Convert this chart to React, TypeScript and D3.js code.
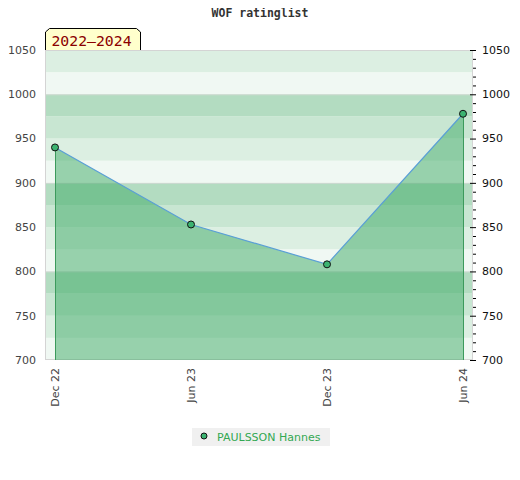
import { useEffect, useRef } from "react"
import * as d3 from "d3"

// ratings
const periods = ["Dec 22", "Jun 23", "Dec 23", "Jun 24"]
const ratings = [940, 853, 808, 978]
const playerName = "PAULSSON Hannes"
const yearRange = "2022–2024"
const yTicks = [700, 750, 800, 850, 900, 950, 1000, 1050]
const bandColors = ["#b3dcc1", "#c8e6d2", "#dcefe2", "#f0f8f3"]

export default function App() {
  const svgRef = useRef<SVGSVGElement>(null)

  useEffect(() => {
    if (!svgRef.current) return
    const svg = d3.select(svgRef.current)
    svg.selectAll("*").remove()

    const width = 520
    const height = 480
    const left = 45
    const right = 473
    const top = 50
    const bottom = 360
    const font = "DejaVu Sans, sans-serif"

    svg.attr("width", width).attr("height", height)

    const x = d3.scalePoint<string>().domain(periods).range([55, 463])
    const y = d3.scaleLinear().domain([700, 1050]).range([bottom, top])

    // background bands, 25 points each
    const bands = d3.range(700, 1050, 25)
    svg.append("g")
      .selectAll("rect")
      .data(bands)
      .enter()
      .append("rect")
      .attr("x", left)
      .attr("width", right - left)
      .attr("y", d => y(d + 25))
      .attr("height", d => y(d) - y(d + 25))
      .attr("fill", d => bandColors[3 - (((d - 700) / 25) % 4)])

    // light grid every 100
    svg.append("g")
      .selectAll("line")
      .data([800, 900, 1000, 1050])
      .enter()
      .append("line")
      .attr("x1", left)
      .attr("x2", right)
      .attr("y1", d => y(d) + 0.5)
      .attr("y2", d => y(d) + 0.5)
      .attr("stroke", "#cfd8d2")

    // plot border
    svg.append("rect")
      .attr("x", left + 0.5)
      .attr("y", top + 0.5)
      .attr("width", right - left - 1)
      .attr("height", bottom - top - 1)
      .attr("fill", "none")
      .attr("stroke", "#d4d4d4")

    const area = d3.area<number>()
      .x((_, i) => x(periods[i])!)
      .y0(y(700))
      .y1(d => y(d))

    svg.append("path")
      .datum(ratings)
      .attr("d", area)
      .attr("fill", "rgba(62,170,102,0.5)")

    // drop lines at first and last point
    const ends = [0, ratings.length - 1]
    svg.append("g")
      .selectAll("line")
      .data(ends)
      .enter()
      .append("line")
      .attr("x1", i => x(periods[i])! + 0.5)
      .attr("x2", i => x(periods[i])! + 0.5)
      .attr("y1", i => y(ratings[i]))
      .attr("y2", y(700))
      .attr("stroke", "#3c9a5c")

    const line = d3.line<number>()
      .x((_, i) => x(periods[i])!)
      .y(d => y(d))

    svg.append("path")
      .datum(ratings)
      .attr("d", line)
      .attr("fill", "none")
      .attr("stroke", "#5a9fd6")
      .attr("stroke-width", 1.2)

    svg.append("g")
      .selectAll("circle")
      .data(ratings)
      .enter()
      .append("circle")
      .attr("cx", (_, i) => x(periods[i])!)
      .attr("cy", d => y(d))
      .attr("r", 3.5)
      .attr("fill", "#3cb371")
      .attr("stroke", "#111")
      .attr("stroke-width", 1)

    // left axis labels
    svg.append("g")
      .selectAll("text")
      .data(yTicks)
      .enter()
      .append("text")
      .attr("x", 36)
      .attr("y", d => y(d))
      .attr("dy", "0.35em")
      .attr("text-anchor", "end")
      .attr("font-family", font)
      .attr("font-size", 11)
      .attr("fill", "#444")
      .text(d => d)

    // right axis with minor ticks
    const minor = d3.range(700, 1051, 10)
    svg.append("g")
      .selectAll("line")
      .data(minor)
      .enter()
      .append("line")
      .attr("x1", d => (d % 50 === 0 ? 470 : 473))
      .attr("x2", 476)
      .attr("y1", d => y(d) + 0.5)
      .attr("y2", d => y(d) + 0.5)
      .attr("stroke", "#000")

    svg.append("g")
      .selectAll("text")
      .data(yTicks)
      .enter()
      .append("text")
      .attr("x", 482)
      .attr("y", d => y(d))
      .attr("dy", "0.35em")
      .attr("font-family", font)
      .attr("font-size", 11)
      .attr("fill", "#111")
      .text(d => d)

    // x labels, rotated
    svg.append("g")
      .selectAll("text")
      .data(periods)
      .enter()
      .append("text")
      .attr("transform", d => `translate(${x(d)! + 4},368) rotate(-90)`)
      .attr("text-anchor", "end")
      .attr("font-family", font)
      .attr("font-size", 11)
      .attr("fill", "#444")
      .text(d => d)

    svg.append("text")
      .attr("x", 260)
      .attr("y", 17)
      .attr("text-anchor", "middle")
      .attr("font-family", "DejaVu Sans Mono, monospace")
      .attr("font-weight", "bold")
      .attr("font-size", 11.5)
      .attr("fill", "#333")
      .text("WOF ratinglist")

    // year badge
    svg.append("path")
      .attr("d", "M45.5,50 V32 L49.5,28.5 H136.5 L140.5,32 V50")
      .attr("fill", "#ffffcc")
      .attr("stroke", "#000")
    svg.append("text")
      .attr("x", 91.5)
      .attr("y", 45.5)
      .attr("text-anchor", "middle")
      .attr("font-family", "DejaVu Sans Mono, monospace")
      .attr("font-size", 14.8)
      .attr("fill", "#8b0000")
      .text(yearRange)

    // legend
    const lg = svg.append("g").attr("transform", "translate(192,428)")
    lg.append("rect").attr("width", 138).attr("height", 18).attr("fill", "#f0f0f0")
    lg.append("circle")
      .attr("cx", 12)
      .attr("cy", 8)
      .attr("r", 3)
      .attr("fill", "#3cb371")
      .attr("stroke", "#111")
    lg.append("text")
      .attr("x", 25)
      .attr("y", 9)
      .attr("dy", "0.35em")
      .attr("font-family", font)
      .attr("font-size", 11)
      .attr("fill", "#33a852")
      .text(playerName)
  }, [])

  return (
    <div style={{ margin: -8 }}>
      <svg ref={svgRef}></svg>
    </div>
  )
}
